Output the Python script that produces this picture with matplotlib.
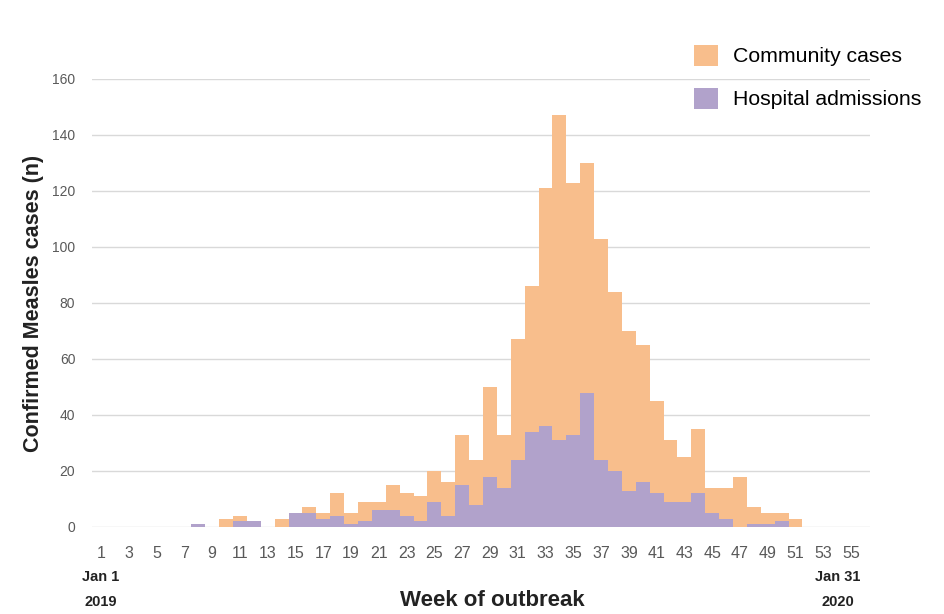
import numpy as np
import matplotlib
matplotlib.use("Agg")
import matplotlib.pyplot as plt

# weekly counts (orange = total reported, purple = hospital)
weeks = list(range(1, 56))
community_cases = [0, 0, 0, 0, 0, 0, 0, 1, 0, 3,
                   4, 2, 0, 3, 5, 7, 5, 12, 5, 9,
                   9, 15, 12, 11, 20, 16, 33, 24, 50, 33,
                   67, 86, 121, 147, 123, 130, 103, 84, 70, 65,
                   45, 31, 25, 35, 14, 14, 18, 7, 5, 5,
                   3, 0, 0, 0, 0]
hospital_admissions = [0, 0, 0, 0, 0, 0, 0, 1, 0, 0,
                       2, 2, 0, 0, 5, 5, 3, 4, 1, 2,
                       6, 6, 4, 2, 9, 4, 15, 8, 18, 14,
                       24, 34, 36, 31, 33, 48, 24, 20, 13, 16,
                       12, 9, 9, 12, 5, 3, 0, 1, 1, 2,
                       0, 0, 0, 0, 0]
y_ticks = [0, 20, 40, 60, 80, 100, 120, 140, 160]
x_ticks = list(range(1, 56, 2))

orange = "#F8BE8C"
purple = "#B1A2CB"
narrow = ["Liberation Sans Narrow", "Liberation Sans", "DejaVu Sans"]

plt.rcParams["font.family"] = ["Liberation Sans", "DejaVu Sans"]

fig = plt.figure(figsize=(9.45, 6.14), dpi=100)
ax = fig.add_axes([92 / 945, 1 - 527 / 614, (870 - 92) / 945, (527 - 79) / 614])

ax.bar(weeks, community_cases, width=1.0, color=orange, linewidth=0,
       label="Community cases", zorder=2)
ax.bar(weeks, hospital_admissions, width=1.0, color=purple, linewidth=0,
       label="Hospital admissions", zorder=3)

ax.set_xlim(0.35, 56.36)
ax.set_ylim(0, 160)
ax.set_yticks(y_ticks)
ax.set_xticks(x_ticks)
ax.set_xticklabels([str(w) for w in x_ticks], family=narrow, fontsize=11.5,
                   color="#595959")
ax.tick_params(axis="y", length=0, pad=12, labelsize=10, labelcolor="#595959")
ax.tick_params(axis="x", length=0, pad=14)

ax.grid(axis="y", color="#d9d9d9", linewidth=1.0, zorder=0)
ax.set_axisbelow(True)
for s in ax.spines.values():
    s.set_visible(False)

ax.set_ylabel("Confirmed Measles cases (n)", fontsize=15.5, fontweight="bold",
              color="#222222", labelpad=6)

# date annotations under the first and last week
fig.text(101 / 945, 1 - 577 / 614, "Jan 1", ha="center", va="center",
         family=narrow, fontweight="bold", fontsize=10.5, color="#222222")
fig.text(101 / 945, 1 - 602 / 614, "2019", ha="center", va="center",
         family=narrow, fontweight="bold", fontsize=10.5, color="#222222")
fig.text(838 / 945, 1 - 577 / 614, "Jan 31", ha="center", va="center",
         family=narrow, fontweight="bold", fontsize=10.5, color="#222222")
fig.text(838 / 945, 1 - 602 / 614, "2020", ha="center", va="center",
         family=narrow, fontweight="bold", fontsize=10.5, color="#222222")
fig.text(492 / 945, 1 - 600 / 614, "Week of outbreak", ha="center", va="center",
         family=narrow, fontweight="bold", fontsize=16, color="#222222")

fig.legend(loc="upper left", bbox_to_anchor=(683 / 945, 1 - 34 / 614),
           frameon=False, fontsize=15.3, handlelength=1.15, handleheight=1.15,
           labelspacing=1.0, borderpad=0, handletextpad=0.7)

plt.savefig("out.png", dpi=100)
